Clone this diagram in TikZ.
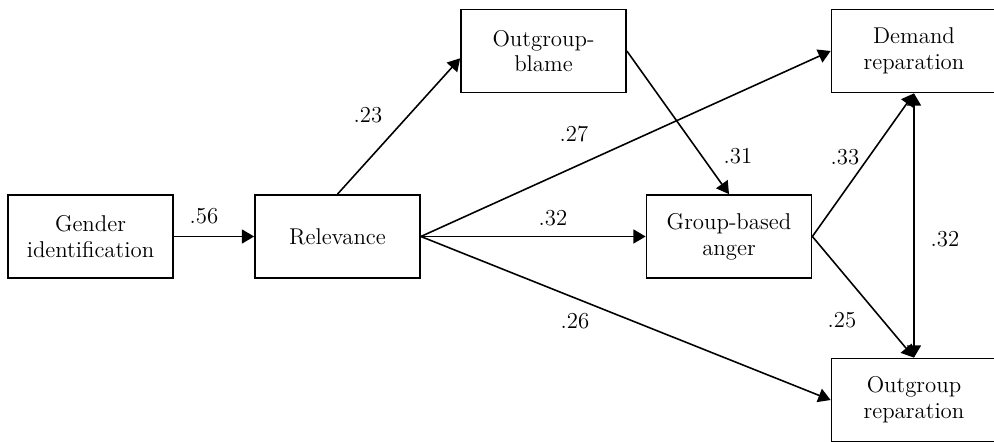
\documentclass[tikz,border=0pt]{standalone}
\usepackage{tikz}
\usetikzlibrary{arrows.meta}

\begin{document}
\begin{tikzpicture}[x=0.02cm,y=-0.02cm,
	box/.style={draw,line width=1pt,minimum width=3.3cm,minimum height=1.66cm,inner sep=0pt,align=center,font=\fontsize{13}{14.7}\selectfont},
	coef/.style={font=\fontsize{13}{14.7}\selectfont,inner sep=0pt},
	path/.style={line width=0.9pt,-{Triangle[length=7pt,width=8pt]}}]
	\useasboundingbox (0,0) rectangle (994,442);
	
	\node[box] (gender) at (90.5,236.5) {Gender\\identification};
	\node[box] (relev) at (337.5,236.5) {Relevance};
	\node[box] (blame) at (543.5,51) {Outgroup-\\blame};
	\node[box] (anger) at (729,236.5) {Group-based\\anger};
	\node[box] (demand) at (914,51) {Demand\\reparation};
	\node[box] (outrep) at (914,400) {Outgroup\\reparation};
	
	\draw[path] (gender) -- (relev);
	\draw[path] (relev.north) -- (blame.185);
	\draw[path] (relev.east) -- (demand.west);
	\draw[path] (relev.east) -- (anger.west);
	\draw[path] (relev.east) -- (outrep.west);
	\draw[path] (blame.east) -- (anger.north);
	\draw[path] (anger.east) -- (demand.south);
	\draw[path] (anger.east) -- (outrep.north);
	\draw[path,{Triangle[length=7pt,width=8pt]}-{Triangle[length=7pt,width=8pt]}] (demand.south) -- (outrep.north);
	
	\node[coef] (c56) at (204,216) {.56};
	\node[coef] (c23) at (368,115) {.23};
	\node[coef] (c27) at (574,134) {.27};
	\node[coef] (c32a) at (553,218) {.32};
	\node[coef] (c26) at (575,321) {.26};
	\node[coef] (c31) at (738,156) {.31};
	\node[coef] (c33) at (845,157) {.33};
	\node[coef] (c25) at (842,320) {.25};
	\node[coef] (c32b) at (945,239) {.32};
\end{tikzpicture}
\end{document}
